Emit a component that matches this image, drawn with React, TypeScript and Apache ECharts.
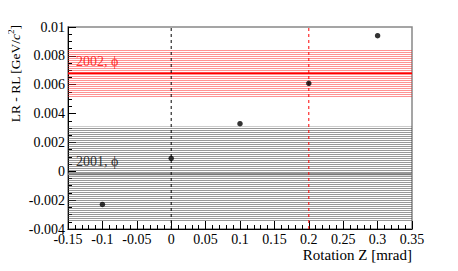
import React, { useEffect, useRef } from "react";
import * as echarts from "echarts";

const rotationZ = [-0.1, 0, 0.1, 0.2, 0.3];
const lrMinusRl = [-0.0023, 0.0009, 0.0033, 0.0061, 0.0094];

// [low, centre, high]
const band2002 = [0.0051, 0.0068, 0.0084];
const band2001 = [-0.0035, -0.0002, 0.0031];

const dashedX = [0, 0.2];
const dashedColors = ["#000000", "#ff0000"];

const bandLabels = ["2002, \u03d5", "2001, \u03d5"];
const bandLabelPos = [
  [-0.1385, 0.0076],
  [-0.1385, 0.00065],
];
const bandLabelColors = ["#ff0000", "#000000"];

const xMin = -0.15;
const xMax = 0.35;
const xStep = 0.05;
const yMin = -0.004;
const yMax = 0.01;
const yStep = 0.002;

const FONT = "Liberation Serif";

function hatch(color: string) {
  const c = document.createElement("canvas");
  c.width = 4;
  c.height = 2;
  const ctx = c.getContext("2d")!;
  ctx.fillStyle = color;
  ctx.fillRect(0, 0, 4, 1);
  return { image: c, repeat: "repeat" as const };
}

function fmt(v: number) {
  const r = parseFloat(v.toFixed(4));
  return r === 0 ? "0" : String(r);
}

function refLine(points: number[][], color: string, width: number, dashed: boolean, z: number) {
  return {
    type: "line",
    data: points,
    z,
    silent: true,
    symbol: "none",
    showSymbol: false,
    lineStyle: { color, width, type: dashed ? [3, 3] : "solid" },
  };
}

export default function App() {
  const ref = useRef<HTMLDivElement>(null);
  useEffect(() => {
    if (!ref.current) return;
    const chart = echarts.init(ref.current, null, { renderer: "svg" });
    const option: any = {
      animation: false,
      textStyle: { fontFamily: FONT },
      grid: {
        left: 68,
        right: 46,
        top: 27,
        bottom: 42,
        show: true,
        borderColor: "#888888",
        borderWidth: 1.5,
        backgroundColor: "transparent",
      },
      xAxis: {
        type: "value",
        min: xMin,
        max: xMax,
        interval: xStep,
        axisLine: { show: true, onZero: false, lineStyle: { color: "#000", width: 1 } },
        axisTick: { show: true, inside: true, length: 8, lineStyle: { color: "#000" } },
        minorTick: { show: true, splitNumber: 5, length: 4, lineStyle: { color: "#000" } },
        splitLine: { show: false },
        axisLabel: {
          color: "#000",
          fontFamily: FONT,
          fontSize: 14,
          margin: 3,
          formatter: (v: number) => fmt(v),
        },
      },
      yAxis: {
        type: "value",
        min: yMin,
        max: yMax,
        interval: yStep,
        axisLine: { show: true, onZero: false, lineStyle: { color: "#000", width: 1 } },
        axisTick: { show: true, inside: true, length: 8, lineStyle: { color: "#000" } },
        minorTick: { show: true, splitNumber: 4, length: 4, lineStyle: { color: "#000" } },
        splitLine: { show: false },
        axisLabel: {
          color: "#000",
          fontFamily: FONT,
          fontSize: 14,
          margin: 3,
          formatter: (v: number) => fmt(v),
        },
      },
      graphic: [
        {
          type: "text",
          x: 14,
          y: 25,
          rotation: Math.PI / 2,
          style: {
            text: "{n|LR - RL [GeV/}{i|c}{s|2}{n|]}",
            align: "right",
            verticalAlign: "middle",
            fill: "#000",
            rich: {
              n: { fontFamily: FONT, fontSize: 13.5, lineHeight: 16, verticalAlign: "bottom", fill: "#000" },
              i: { fontFamily: FONT, fontSize: 13.5, fontStyle: "italic", lineHeight: 16, verticalAlign: "bottom", fill: "#000" },
              s: { fontFamily: FONT, fontSize: 9, lineHeight: 16, verticalAlign: "top", fill: "#000" },
            },
          },
        },
        {
          type: "text",
          x: 412,
          y: 255,
          style: {
            text: "Rotation Z [mrad]",
            align: "right",
            verticalAlign: "middle",
            fontFamily: FONT,
            fontSize: 15,
            fill: "#000",
          },
        },
      ],
      series: [
        {
          type: "line",
          data: [],
          z: 1,
          markArea: {
            silent: true,
            precision: 6,
            data: [
              [
                { yAxis: band2002[0], itemStyle: { color: hatch("rgba(255,40,40,0.5)") } },
                { yAxis: band2002[2] },
              ],
              [
                { yAxis: band2001[0], itemStyle: { color: hatch("rgba(70,70,70,0.55)") } },
                { yAxis: band2001[2] },
              ],
            ],
          },
        },
        refLine([[xMin, band2002[1]], [xMax, band2002[1]]], "#ff0000", 1.5, false, 2),
        refLine([[xMin, band2001[1]], [xMax, band2001[1]]], "#777777", 2, false, 2),
        ...dashedX.map((x, i) => refLine([[x, yMin], [x, yMax]], dashedColors[i], 1, true, 2)),
        {
          type: "scatter",
          z: 3,
          symbolSize: 0,
          silent: true,
          data: bandLabelPos.map((p, i) => ({
            value: p,
            label: {
              show: true,
              position: "right",
              distance: 0,
              formatter: bandLabels[i],
              color: bandLabelColors[i],
              fontFamily: FONT,
              fontSize: 14,
            },
          })),
        },
        {
          type: "scatter",
          z: 4,
          symbol: "circle",
          symbolSize: 5.5,
          itemStyle: { color: "#000" },
          data: rotationZ.map((x, i) => [x, lrMinusRl[i]]),
        },
      ],
    };
    chart.setOption(option);
    return () => chart.dispose();
  }, []);
  return <div ref={ref} style={{ width: 458, height: 271, margin: -8 }} />;
}
